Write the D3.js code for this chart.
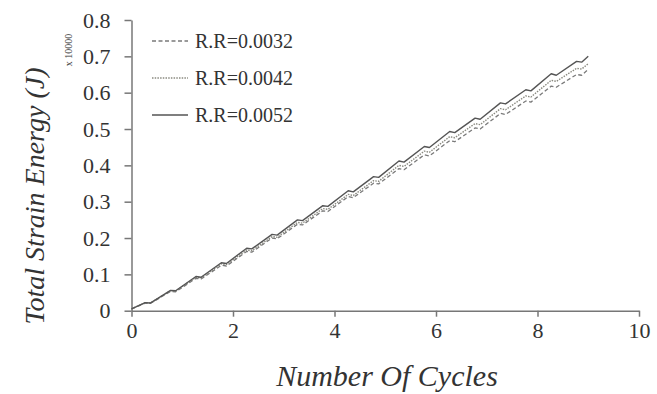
<!DOCTYPE html>
<html lang="en">
<head>
    <meta charset="UTF-8">
    <title>Total Strain Energy vs Number Of Cycles</title>
    <script src="https://d3js.org/d3.v7.min.js"></script>
    <style>
        body { margin: 0; background: #fff; }
        svg text { font-family: "Liberation Serif", Tinos, "Times New Roman", Times, "DejaVu Serif", serif !important; fill: #333; }
        .axis path, .axis line { stroke: #777; stroke-width: 1.5; }
    </style>
</head>
<body>
    <svg width="657" height="394"></svg>
    <script>
        const width = 657;
        const height = 394;

        // cycles (x values shared by all series)
        const cycles = [0, 0.27, 0.37, 0.77, 0.87, 1.27, 1.37, 1.77, 1.87, 2.27, 2.37, 2.77, 2.87,
            3.27, 3.37, 3.77, 3.87, 4.27, 4.37, 4.77, 4.87, 5.27, 5.37, 5.77, 5.87, 6.27, 6.37,
            6.77, 6.87, 7.27, 7.37, 7.77, 7.87, 8.27, 8.37, 8.77, 8.87, 9.0];

        // energy (x 10000 J)
        const rr0032 = [0.005, 0.021, 0.020, 0.053, 0.052, 0.089, 0.087, 0.125, 0.123, 0.163, 0.161,
            0.200, 0.198, 0.238, 0.236, 0.275, 0.273, 0.314, 0.311, 0.351, 0.349, 0.391, 0.388,
            0.429, 0.426, 0.468, 0.465, 0.503, 0.500, 0.543, 0.540, 0.577, 0.574, 0.618, 0.615,
            0.650, 0.648, 0.664];
        const rr0042 = [0.005, 0.022, 0.021, 0.055, 0.054, 0.092, 0.090, 0.129, 0.127, 0.167, 0.165,
            0.204, 0.202, 0.243, 0.241, 0.281, 0.279, 0.320, 0.317, 0.358, 0.356, 0.400, 0.397,
            0.439, 0.436, 0.479, 0.476, 0.515, 0.512, 0.556, 0.553, 0.591, 0.588, 0.634, 0.631,
            0.667, 0.665, 0.680];
        const rr0052 = [0.005, 0.022, 0.021, 0.056, 0.055, 0.094, 0.092, 0.132, 0.130, 0.172, 0.170,
            0.210, 0.208, 0.250, 0.248, 0.289, 0.287, 0.330, 0.327, 0.369, 0.367, 0.412, 0.409,
            0.452, 0.449, 0.493, 0.490, 0.530, 0.527, 0.572, 0.569, 0.608, 0.605, 0.652, 0.648,
            0.686, 0.684, 0.700];

        const seriesNames = ["R.R=0.0032", "R.R=0.0042", "R.R=0.0052"];
        const xTicks = [0, 2, 4, 6, 8, 10];
        const yTicks = [0, 0.1, 0.2, 0.3, 0.4, 0.5, 0.6, 0.7, 0.8];

        const series = [
            { name: seriesNames[0], values: rr0032, color: "#7a7a7a", dash: "4,2.5", w: 1.3 },
            { name: seriesNames[1], values: rr0042, color: "#8a8a80", dash: "1.5,1.2", w: 1.4 },
            { name: seriesNames[2], values: rr0052, color: "#555", dash: null, w: 1.4 }
        ];

        const svg = d3.select("svg");
        const x = d3.scaleLinear().domain([0, 10]).range([131.5, 639]);
        const y = d3.scaleLinear().domain([0, 0.8]).range([310.7, 20]);

        // axes
        svg.append("g")
            .attr("class", "axis")
            .attr("transform", `translate(0,${y(0)})`)
            .call(d3.axisBottom(x).tickValues(xTicks).tickSize(6).tickSizeOuter(0).tickPadding(6).tickFormat(d3.format("d")))
            .call(g => g.selectAll("text").style("font-size", "22px"));

        svg.append("g")
            .attr("class", "axis")
            .attr("transform", `translate(${x(0)},0)`)
            .call(d3.axisLeft(y).tickValues(yTicks).tickSize(7).tickSizeOuter(0).tickPadding(14)
                .tickFormat(d => d === 0 ? "0" : d3.format(".1f")(d)))
            .call(g => g.selectAll("text").style("font-size", "22px"));

        svg.selectAll(".axis").attr("font-family", null);

        // lines
        const line = d3.line()
            .x((d, i) => x(cycles[i]))
            .y(d => y(d));

        svg.append("g")
            .selectAll("path")
            .data(series)
            .enter().append("path")
            .attr("fill", "none")
            .attr("stroke", d => d.color)
            .attr("stroke-width", d => d.w)
            .attr("stroke-dasharray", d => d.dash)
            .attr("stroke-linejoin", "round")
            .attr("d", d => line(d.values));

        // legend
        const legend = svg.append("g")
            .selectAll("g")
            .data(series)
            .enter().append("g")
            .attr("transform", (d, i) => `translate(152,${41 + i * 37})`);

        legend.append("line")
            .attr("x1", 0).attr("x2", 36)
            .attr("stroke", d => d.color)
            .attr("stroke-width", d => d.w)
            .attr("stroke-dasharray", d => d.dash);

        legend.append("text")
            .attr("x", 43)
            .attr("dy", "0.35em")
            .style("font-size", "20px")
            .text(d => d.name);

        // axis titles
        svg.append("text")
            .attr("x", 387)
            .attr("y", 386)
            .attr("text-anchor", "middle")
            .style("font-size", "30px")
            .style("font-style", "italic")
            .text("Number Of Cycles");

        svg.append("text")
            .attr("transform", "translate(44,196) rotate(-90)")
            .attr("text-anchor", "middle")
            .style("font-size", "28px")
            .style("font-style", "italic")
            .text("Total Strain Energy (J)");

        svg.append("text")
            .attr("transform", "translate(72,50) rotate(-90)")
            .attr("text-anchor", "middle")
            .style("font-size", "10px")
            .text("x 10000");
    </script>
</body>
</html>
